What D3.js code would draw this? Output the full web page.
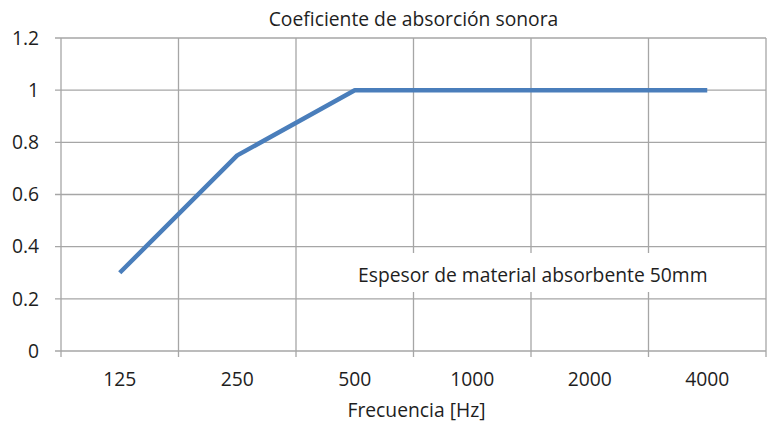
<!DOCTYPE html>
<html>
<head>
<meta charset="utf-8">
<script src="https://cdn.jsdelivr.net/npm/d3@7"></script>
<style>
  body { margin: 0; background: #fff; }
  text { font-family: "Open Sans", "Noto Sans", sans-serif; fill: #1e1e1e; }
</style>
</head>
<body>
<div id="chart"></div>
<script>
// data
var frecuencias = ["125", "250", "500", "1000", "2000", "4000"];
var absorcion = [0.3, 0.75, 1, 1, 1, 1];
var yTicks = [0, 0.2, 0.4, 0.6, 0.8, 1, 1.2];
var titulo = "Coeficiente de absorción sonora";
var ejeX = "Frecuencia [Hz]";
var nota = "Espesor de material absorbente 50mm";

var margin = {top: 38, right: 8, bottom: 75, left: 61},
    width = 774 - margin.left - margin.right,
    height = 426 - margin.top - margin.bottom;

var fontSize = "19.3px";

var svg = d3.select("#chart")
    .append("svg")
    .attr("width", 774)
    .attr("height", 426)
    .append("g")
    .attr("transform", "translate(" + margin.left + "," + margin.top + ")");

var x = d3.scaleBand()
    .domain(frecuencias)
    .range([0, width]);

var y = d3.scaleLinear()
    .domain([0, 1.2])
    .range([height, 0]);

var gridColor = "#a6a6a6";

// horizontal grid + y ticks
svg.append("g")
    .selectAll("line")
    .data(yTicks)
    .enter()
    .append("line")
    .attr("x1", -6)
    .attr("x2", width)
    .attr("y1", function(d) { return y(d); })
    .attr("y2", function(d) { return y(d); })
    .attr("stroke", gridColor)
    .attr("stroke-width", 1.3);

// vertical grid at band edges
var edges = frecuencias.map(function(d) { return x(d); }).concat([width]);
svg.append("g")
    .selectAll("line")
    .data(edges)
    .enter()
    .append("line")
    .attr("x1", function(d) { return d; })
    .attr("x2", function(d) { return d; })
    .attr("y1", 0)
    .attr("y2", height + 6)
    .attr("stroke", gridColor)
    .attr("stroke-width", 1.3);

// y labels
svg.append("g")
    .selectAll("text")
    .data(yTicks)
    .enter()
    .append("text")
    .attr("x", -22)
    .attr("y", function(d) { return y(d); })
    .attr("dy", "0.35em")
    .attr("text-anchor", "end")
    .style("font-size", fontSize)
    .text(function(d) { return d; });

// x labels
svg.append("g")
    .selectAll("text")
    .data(frecuencias)
    .enter()
    .append("text")
    .attr("x", function(d) { return x(d) + x.bandwidth() / 2; })
    .attr("y", height + 35)
    .attr("text-anchor", "middle")
    .style("font-size", fontSize)
    .text(function(d) { return d; });

// note box
svg.append("rect")
    .attr("x", 289)
    .attr("y", 215)
    .attr("width", 372)
    .attr("height", 39)
    .attr("fill", "#fff");

svg.append("text")
    .attr("x", 297)
    .attr("y", 244)
    .style("font-size", fontSize)
    .text(nota);

// line
var line = d3.line()
    .x(function(d, i) { return x(frecuencias[i]) + x.bandwidth() / 2; })
    .y(function(d) { return y(d); });

svg.append("path")
    .datum(absorcion)
    .attr("d", line)
    .attr("fill", "none")
    .attr("stroke", "#4a7ebb")
    .attr("stroke-width", 4.5)
    .attr("stroke-linejoin", "round");

// titles
svg.append("text")
    .attr("x", width / 2)
    .attr("y", -12)
    .attr("text-anchor", "middle")
    .style("font-size", fontSize)
    .text(titulo);

svg.append("text")
    .attr("x", width / 2 + 3)
    .attr("y", height + 66)
    .attr("text-anchor", "middle")
    .style("font-size", fontSize)
    .text(ejeX);
</script>
</body>
</html>
